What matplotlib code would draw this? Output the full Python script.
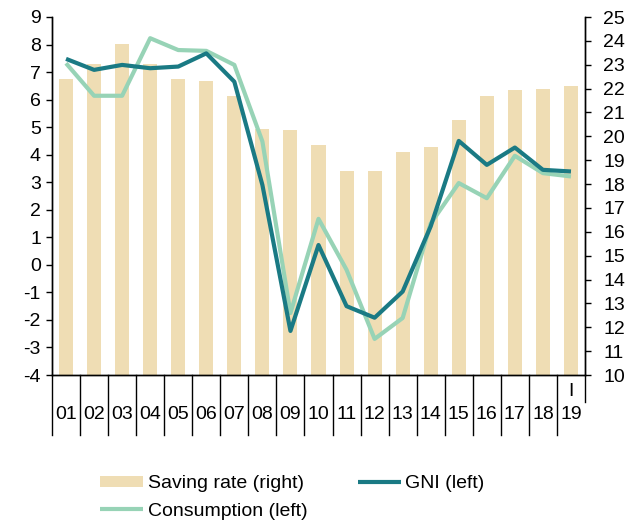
"""
Saving rate, GNI and consumption, 2001-2019 (Q1).
"""

import numpy as np
import matplotlib
matplotlib.use("Agg")
import matplotlib.pyplot as plt

plt.rcParams["font.family"] = ["Liberation Sans", "DejaVu Sans"]
plt.rcParams["font.size"] = 14
plt.rcParams["axes.unicode_minus"] = False

# --- Data ---
years = ["01", "02", "03", "04", "05", "06", "07", "08", "09", "10",
         "11", "12", "13", "14", "15", "16", "17", "18", "19"]
sub_labels = [""] * 18 + ["I"]

saving_rate = [22.4, 23.05, 23.85, 23.05, 22.4, 22.3, 21.7, 20.3, 20.25, 19.65,
               18.55, 18.55, 19.35, 19.55, 20.7, 21.7, 21.95, 22.0, 22.1]
gni = [7.48, 7.08, 7.26, 7.14, 7.2, 7.68, 6.65, 2.9, -2.4, 0.72,
       -1.5, -1.92, -0.97, 1.4, 4.5, 3.63, 4.26, 3.45, 3.39]
consumption = [7.32, 6.14, 6.14, 8.23, 7.8, 7.77, 7.26, 4.48, -1.75, 1.67,
               -0.18, -2.69, -1.93, 1.5, 2.97, 2.42, 3.96, 3.33, 3.21]

bar_color = "#EFDDB4"
gni_color = "#1A7A84"
cons_color = "#97D3B6"

x = np.arange(len(years))

# --- Figure ---
fig = plt.figure(figsize=(6.38, 5.24), dpi=100)
ax = fig.add_axes([52 / 638, 1 - 375 / 524, 533 / 638, 358 / 524])
ax2 = ax.twinx()

bars = ax2.bar(x, saving_rate, width=0.5, color=bar_color, label="Saving rate (right)")
ln_gni, = ax.plot(x, gni, color=gni_color, lw=3, solid_joinstyle="round",
                  solid_capstyle="butt", label="GNI (left)", zorder=3)
ln_cons, = ax.plot(x, consumption, color=cons_color, lw=3, solid_joinstyle="round",
                   solid_capstyle="butt", label="Consumption (left)", zorder=2)

ax.set_zorder(ax2.get_zorder() + 1)
ax.patch.set_visible(False)

ax.set_xlim(-0.5, len(years) - 0.5)
ax.set_ylim(-4, 9)
ax.set_yticks(np.arange(-4, 10, 1))
ax2.set_ylim(10, 25)
ax2.set_yticks(np.arange(10, 26, 1))

for a in (ax, ax2):
    a.spines["top"].set_visible(False)
    for side in ("left", "right", "bottom"):
        a.spines[side].set_linewidth(1.0)

ax.tick_params(axis="y", direction="out", length=4, width=1, pad=4)
ax2.tick_params(axis="y", direction="out", length=4, width=1, pad=9)
ax.tick_params(axis="x", length=0, labelbottom=False)
ax2.tick_params(axis="x", length=0, labelbottom=False)

# --- Two-level category axis ---
trans = ax.get_xaxis_transform()
for b in np.arange(-0.5, len(years) - 0.5, 1.0):
    ax.plot([b, b], [0, -0.168], color="black", lw=1.0, transform=trans, clip_on=False)
ax.plot([len(years) - 0.5] * 2, [0, -0.075], color="black", lw=1.0,
        transform=trans, clip_on=False)

for xi, yr, sub in zip(x, years, sub_labels):
    ax.text(xi, -0.11, yr, transform=trans, ha="center", va="center", fontsize=14)
    if sub:
        ax.text(xi, -0.046, sub, transform=trans, ha="center", va="center", fontsize=14)

# --- Legend ---
fig.legend([bars, ln_cons, ln_gni],
           ["Saving rate (right)", "Consumption (left)", "GNI (left)"],
           loc="upper left", bbox_to_anchor=(100 / 638, 1 - 475 / 524),
           ncol=2, frameon=False, borderpad=0, borderaxespad=0,
           handlelength=2.2, handleheight=0.5, handletextpad=0.25,
           columnspacing=2.6, labelspacing=0.55, fontsize=14)

fig.savefig("out.png", dpi=100)
